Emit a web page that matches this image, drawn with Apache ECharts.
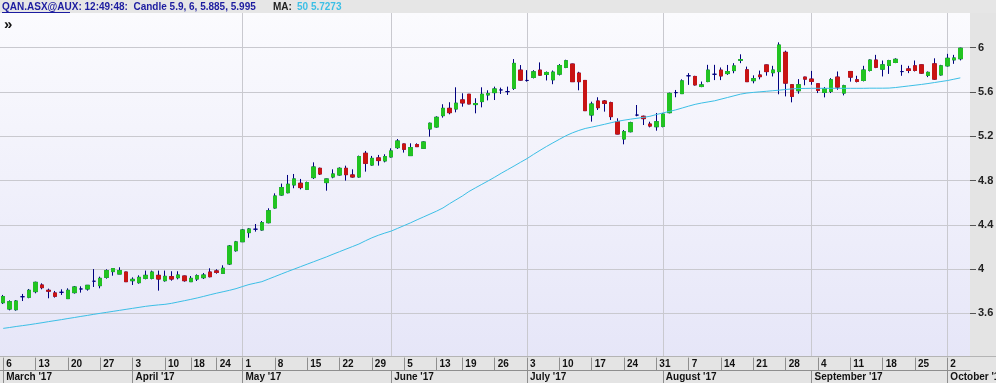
<!DOCTYPE html>
<html><head><meta charset="utf-8">
<script src="https://cdn.jsdelivr.net/npm/echarts@6.0.0/dist/echarts.min.js"></script>
<style>html,body{margin:0;padding:0;background:#fff}#c{width:996px;height:383px}</style>
</head><body><div id="c"></div>
<script>
const dates = [
'2017-03-06','2017-03-07','2017-03-08','2017-03-09','2017-03-10','2017-03-13','2017-03-14','2017-03-15','2017-03-16','2017-03-17',
'2017-03-20','2017-03-21','2017-03-22','2017-03-23','2017-03-24','2017-03-27','2017-03-28','2017-03-29','2017-03-30','2017-03-31',
'2017-04-03','2017-04-04','2017-04-05','2017-04-06','2017-04-07','2017-04-10','2017-04-11','2017-04-12','2017-04-13',
'2017-04-18','2017-04-19','2017-04-20','2017-04-21','2017-04-24','2017-04-26','2017-04-27','2017-04-28',
'2017-05-01','2017-05-02','2017-05-03','2017-05-04','2017-05-05','2017-05-08','2017-05-09','2017-05-10','2017-05-11','2017-05-12',
'2017-05-15','2017-05-16','2017-05-17','2017-05-18','2017-05-19','2017-05-22','2017-05-23','2017-05-24','2017-05-25','2017-05-26',
'2017-05-29','2017-05-30','2017-05-31',
'2017-06-01','2017-06-02','2017-06-05','2017-06-06','2017-06-07','2017-06-08','2017-06-09','2017-06-13','2017-06-14','2017-06-15','2017-06-16',
'2017-06-19','2017-06-20','2017-06-21','2017-06-22','2017-06-23','2017-06-26','2017-06-27','2017-06-28','2017-06-29','2017-06-30',
'2017-07-03','2017-07-04','2017-07-05','2017-07-06','2017-07-07','2017-07-10','2017-07-11','2017-07-12','2017-07-13','2017-07-14',
'2017-07-17','2017-07-18','2017-07-19','2017-07-20','2017-07-21','2017-07-24','2017-07-25','2017-07-26','2017-07-27','2017-07-28','2017-07-31',
'2017-08-01','2017-08-02','2017-08-03','2017-08-04','2017-08-07','2017-08-08','2017-08-09','2017-08-10','2017-08-11',
'2017-08-14','2017-08-15','2017-08-16','2017-08-17','2017-08-18','2017-08-21','2017-08-22','2017-08-23','2017-08-24','2017-08-25',
'2017-08-28','2017-08-29','2017-08-30','2017-08-31',
'2017-09-01','2017-09-04','2017-09-05','2017-09-06','2017-09-07','2017-09-08','2017-09-11','2017-09-12','2017-09-13','2017-09-14','2017-09-15',
'2017-09-18','2017-09-19','2017-09-20','2017-09-21','2017-09-22','2017-09-25','2017-09-26','2017-09-27','2017-09-28','2017-09-29',
'2017-10-02','2017-10-03','2017-10-04'
];
const openP = [3.696,3.639,3.633,3.750,3.745,3.796,3.856,3.808,3.784,3.790,3.733,3.787,3.820,3.820,3.890,3.850,3.925,3.977,3.955,3.973,
3.895,3.877,3.916,3.916,3.943,3.895,3.931,3.922,3.937,3.886,3.910,3.922,3.973,3.983,3.961,4.046,4.166,4.247,4.329,4.360,
4.353,4.419,4.552,4.669,4.690,4.760,4.775,4.720,4.826,4.910,4.781,4.832,4.850,4.910,4.850,4.832,5.046,4.940,5.004,4.977,
5.013,5.097,5.130,5.025,5.124,5.091,5.266,5.284,5.386,5.452,5.446,5.528,5.579,5.486,5.513,5.573,5.594,5.618,5.603,5.633,
5.797,5.704,5.731,5.797,5.758,5.710,5.761,5.822,5.852,5.770,5.704,5.392,5.518,5.518,5.503,5.332,5.175,5.241,5.391,5.380,
5.310,5.286,5.289,5.413,5.594,5.585,5.746,5.740,5.649,5.694,5.760,5.797,5.766,5.793,5.886,5.800,5.702,5.753,5.844,5.774,
5.784,5.958,5.665,5.611,5.734,5.716,5.674,5.596,5.605,5.734,5.590,5.785,5.710,5.704,5.794,5.888,5.806,5.839,5.866,5.784,
5.808,5.836,5.845,5.750,5.854,5.754,5.836,5.890,5.900];
const highP = [3.766,3.717,3.720,3.775,3.820,3.886,3.871,3.823,3.802,3.817,3.826,3.847,3.844,3.856,4.000,3.931,3.998,4.007,4.016,3.975,
3.925,3.943,3.986,3.986,3.986,3.986,3.980,3.980,3.940,3.937,3.952,3.964,4.007,3.998,4.034,4.217,4.254,4.362,4.371,4.407,
4.434,4.549,4.684,4.772,4.850,4.859,4.814,4.790,4.964,4.916,4.817,4.901,4.919,4.934,4.901,5.025,5.067,5.022,5.031,5.037,
5.091,5.175,5.133,5.136,5.136,5.154,5.323,5.380,5.489,5.507,5.642,5.588,5.582,5.543,5.642,5.615,5.648,5.639,5.648,5.897,
5.843,5.797,5.797,5.867,5.785,5.794,5.852,5.891,5.855,5.782,5.707,5.512,5.552,5.527,5.512,5.362,5.256,5.331,5.482,5.386,
5.331,5.410,5.410,5.594,5.618,5.714,5.770,5.746,5.694,5.845,5.845,5.821,5.844,5.860,5.940,5.829,5.750,5.793,5.847,5.836,
6.048,5.973,5.668,5.716,5.737,5.790,5.677,5.644,5.725,5.785,5.665,5.788,5.746,5.836,5.894,5.935,5.884,5.890,5.904,5.845,
5.836,5.884,5.848,5.785,5.904,5.845,5.944,5.935,6.000];
const lowP = [3.684,3.627,3.624,3.711,3.736,3.781,3.817,3.736,3.742,3.766,3.730,3.778,3.787,3.805,3.838,3.826,3.913,3.940,3.955,3.883,
3.856,3.868,3.907,3.907,3.805,3.886,3.895,3.907,3.886,3.884,3.892,3.910,3.925,3.958,3.955,4.037,4.157,4.245,4.283,4.338,
4.347,4.413,4.546,4.663,4.684,4.730,4.720,4.714,4.814,4.850,4.708,4.820,4.844,4.799,4.826,4.826,4.880,4.934,4.934,4.964,
5.007,5.085,5.052,5.022,5.103,5.085,5.196,5.278,5.368,5.398,5.416,5.467,5.489,5.407,5.461,5.524,5.527,5.582,5.573,5.618,
5.701,5.693,5.722,5.749,5.704,5.670,5.749,5.815,5.690,5.615,5.428,5.332,5.437,5.422,5.347,5.218,5.127,5.235,5.380,5.301,
5.280,5.250,5.280,5.407,5.552,5.582,5.664,5.658,5.643,5.688,5.707,5.707,5.754,5.769,5.860,5.690,5.678,5.714,5.747,5.740,
5.579,5.560,5.506,5.584,5.660,5.665,5.590,5.551,5.590,5.620,5.569,5.693,5.686,5.695,5.785,5.815,5.740,5.763,5.860,5.746,
5.770,5.785,5.763,5.734,5.710,5.748,5.830,5.854,5.885];
const closeP = [3.751,3.705,3.711,3.750,3.808,3.880,3.832,3.800,3.754,3.790,3.808,3.838,3.820,3.853,3.890,3.916,3.986,4.004,3.986,3.886,
3.907,3.925,3.943,3.973,3.910,3.934,3.910,3.946,3.895,3.916,3.940,3.946,3.931,3.970,4.007,4.208,4.245,4.353,4.362,4.360,
4.419,4.527,4.660,4.736,4.766,4.814,4.736,4.781,4.922,4.859,4.814,4.859,4.910,4.853,4.832,5.016,4.955,5.000,4.980,5.016,
5.067,5.157,5.082,5.097,5.106,5.148,5.317,5.371,5.452,5.413,5.498,5.501,5.492,5.495,5.579,5.585,5.627,5.618,5.603,5.858,
5.707,5.704,5.782,5.752,5.776,5.779,5.839,5.882,5.693,5.693,5.431,5.491,5.458,5.497,5.377,5.220,5.241,5.322,5.391,5.359,
5.292,5.331,5.400,5.587,5.594,5.700,5.746,5.664,5.664,5.797,5.760,5.745,5.784,5.835,5.892,5.693,5.720,5.738,5.784,5.798,
6.024,5.680,5.560,5.665,5.716,5.695,5.614,5.629,5.710,5.644,5.656,5.734,5.695,5.798,5.888,5.823,5.845,5.884,5.895,5.784,
5.794,5.794,5.770,5.777,5.716,5.836,5.904,5.907,5.995];
const ma50 = [3.464,3.472,3.481,3.489,3.497,3.506,3.515,3.525,3.534,3.543,3.553,3.562,3.572,3.581,3.591,3.600,3.609,3.618,3.627,3.636,
3.645,3.654,3.663,3.670,3.676,3.681,3.690,3.702,3.714,3.726,3.739,3.753,3.768,3.782,3.795,3.808,3.823,3.842,3.860,3.873,
3.886,3.909,3.932,3.955,3.978,4.000,4.022,4.044,4.066,4.088,4.110,4.134,4.157,4.180,4.203,4.226,4.255,4.282,4.305,4.325,
4.343,4.368,4.393,4.418,4.445,4.471,4.497,4.523,4.552,4.590,4.625,4.660,4.700,4.733,4.765,4.797,4.830,4.865,4.898,4.931,
4.965,4.998,5.036,5.072,5.107,5.140,5.172,5.204,5.230,5.252,5.270,5.282,5.295,5.308,5.322,5.335,5.345,5.354,5.362,5.370,
5.380,5.396,5.410,5.424,5.438,5.455,5.472,5.488,5.500,5.510,5.520,5.535,5.550,5.565,5.580,5.590,5.596,5.601,5.606,5.611,
5.616,5.622,5.628,5.631,5.632,5.633,5.633,5.633,5.633,5.633,5.633,5.633,5.633,5.633,5.634,5.634,5.634,5.635,5.640,5.647,
5.654,5.661,5.668,5.676,5.685,5.694,5.703,5.715,5.7273];
const yTicks = [3.6, 4, 4.4, 4.8, 5.2, 5.6, 6];
const monthNames = ['January','February','March','April','May','June','July','August','September','October','November','December'];
const gridMonthStarts = ['2017-05-01','2017-06-01','2017-07-03','2017-08-01','2017-09-01','2017-10-02'];
const maPeriod = 50;
const symbol = 'QAN.ASX@AUX';
const timeStamp = '12:49:48';

const FONT = "'Liberation Sans', Arial, sans-serif";
const GREEN = '#22c322', RED = '#c81414', NAVY = '#00007f', MA_C = '#3cbfe6', GRID_C = '#c9c9cf';

const dObj = dates.map(s => new Date(s + 'T00:00:00Z'));
const weekStart = new Set(), monthStart = new Set();
dObj.forEach((d, i) => {
  if (i === 0 || d.getUTCDay() <= dObj[i-1].getUTCDay() || (d - dObj[i-1]) > 4*864e5) weekStart.add(i);
  if (i === 0 || d.getUTCMonth() !== dObj[i-1].getUTCMonth()) monthStart.add(i);
});
const gridIdx = new Set(gridMonthStarts.map(s => dates.indexOf(s)));

const wickData = dates.map((d, i) => [openP[i], closeP[i], lowP[i], highP[i]]);
const bodyData = dates.map((d, i) => openP[i] === closeP[i] ? ['-','-','-','-'] :
  [openP[i], closeP[i], Math.min(openP[i], closeP[i]), Math.max(openP[i], closeP[i])]);

const last = dates.length - 1;
const headerMain = symbol + ': ' + timeStamp + ':  Candle ' + [openP[last], highP[last], lowP[last], closeP[last]].map(v => +v.toFixed(3)).join(', ');
const headerMA = maPeriod + ' ' + ma50[last];

const catMax = dates.length; // one empty band at the right

const hdrText = (x, text, fill) => ({type: 'text', silent: true, z: 12, x: x, y: 7,
  style: {text: text, fill: fill, fontFamily: FONT, fontSize: 10, fontWeight: 'bold', verticalAlign: 'middle'}});

const chart = echarts.init(document.getElementById('c'), null, {renderer: 'canvas'});
chart.setOption({
  animation: false,
  backgroundColor: '#ffffff',
  grid: {left: 0, right: 26, top: 3.4, bottom: 25.4, containLabel: false, outerBoundsMode: 'none'},
  xAxis: [
    { type: 'category', data: dates, boundaryGap: true, max: catMax, gridIndex: 0,
      axisLine: {show: false}, axisLabel: {show: false}, splitLine: {show: false},
      axisTick: {show: true, alignWithLabel: true, inside: true, length: 345,
        interval: (i) => gridIdx.has(i), lineStyle: {color: GRID_C, width: 1}} },
    { type: 'category', data: dates, boundaryGap: true, max: catMax, gridIndex: 0, position: 'bottom', offset: 0, z: 20,
      axisLine: {show: false}, splitLine: {show: false},
      axisTick: {show: true, alignWithLabel: true, length: 12.5, interval: (i) => weekStart.has(i), lineStyle: {color: '#8e8e8e'}},
      axisLabel: {show: true, interval: (i) => weekStart.has(i), align: 'left', padding: [0,0,0,3], margin: 1,
        formatter: (v) => String(+v.slice(8, 10)), fontFamily: FONT, fontSize: 10, fontWeight: 'bold', color: '#111', lineHeight: 12} },
    { type: 'category', data: dates, boundaryGap: true, max: catMax, gridIndex: 0, position: 'bottom', offset: 12.5, z: 20,
      axisLine: {show: true, lineStyle: {color: '#8e8e8e', width: 1}}, splitLine: {show: false},
      axisTick: {show: true, alignWithLabel: true, length: 13, interval: (i) => monthStart.has(i), lineStyle: {color: '#8e8e8e'}},
      axisLabel: {show: true, interval: (i) => monthStart.has(i), align: 'left', padding: [0,0,0,3], margin: 1,
        formatter: (v) => monthNames[+v.slice(5, 7) - 1] + " '" + v.slice(2, 4), fontFamily: FONT, fontSize: 10, fontWeight: 'bold', color: '#111', lineHeight: 12} }
  ],
  yAxis: [
    { type: 'value', position: 'right', min: 3.2, max: 6.4, interval: 0.4, gridIndex: 0, scale: true,
      axisLine: {show: false}, axisTick: {show: false}, axisLabel: {show: false},
      splitLine: {show: true, lineStyle: {color: GRID_C, width: 1}} },
    { type: 'value', position: 'right', min: 3.2, max: 6.4, interval: 0.4, gridIndex: 0, z: 20, scale: true,
      axisLine: {show: false}, splitLine: {show: false},
      axisTick: {show: true, length: 6, customValues: yTicks, lineStyle: {color: '#555'}},
      axisLabel: {show: true, customValues: yTicks, margin: 8, formatter: (v) => String(+(+v).toFixed(1)),
        fontFamily: FONT, fontSize: 11, fontWeight: 'bold', color: '#222'} }
  ],
  graphic: [
    {type: 'rect', silent: true, z: -10, shape: {x: 0, y: 13, width: 970, height: 343},
      style: {fill: new echarts.graphic.LinearGradient(0, 0, 0, 1, [{offset: 0, color: '#fbfbfe'}, {offset: 1, color: '#e6e6f8'}])}},
    {type: 'rect', silent: true, z: 10, shape: {x: 970, y: 13, width: 26, height: 343}, style: {fill: '#e4e4e4'}},
    {type: 'rect', silent: true, z: 10, shape: {x: 0, y: 356, width: 996, height: 27}, style: {fill: '#e4e4e4'}},
    {type: 'line', silent: true, z: 11, shape: {x1: 0, y1: 356.5, x2: 996, y2: 356.5}, style: {stroke: '#b4b4b4', lineWidth: 1}},
    {type: 'rect', silent: true, z: 10, shape: {x: 0, y: 0, width: 996, height: 13}, style: {fill: '#e6e6e6'}},
    hdrText(2, headerMain, '#1c1ca0'),
    {type: 'line', silent: true, z: 12, shape: {x1: 2, y1: 12.5, x2: 70, y2: 12.5}, style: {stroke: '#1c1ca0', lineWidth: 1}},
    hdrText(273, 'MA:', '#222'),
    hdrText(297, headerMA, MA_C),
    {type: 'text', silent: true, z: 12, x: 4, y: 25, style: {text: '\u00bb', fill: '#111', fontFamily: FONT, fontSize: 15, fontWeight: 'bold', verticalAlign: 'middle'}}
  ],
  series: [
    { type: 'candlestick', name: 'wick', data: wickData, xAxisIndex: 0, yAxisIndex: 0, barWidth: 4, z: 2,
      itemStyle: {color: 'rgba(0,0,0,0)', color0: 'rgba(0,0,0,0)', borderColor: NAVY, borderColor0: NAVY, borderColorDoji: NAVY, borderWidth: 1},
      emphasis: {disabled: true} },
    { type: 'candlestick', name: 'body', data: bodyData, xAxisIndex: 0, yAxisIndex: 0, barWidth: 4, z: 3,
      itemStyle: {color: GREEN, color0: RED, borderColor: GREEN, borderColor0: RED, borderWidth: 1},
      emphasis: {disabled: true} },
    { type: 'line', name: 'MA 50', data: ma50, xAxisIndex: 0, yAxisIndex: 0, showSymbol: false, symbol: 'none', z: 4,
      lineStyle: {color: MA_C, width: 1}, emphasis: {disabled: true} }
  ]
});
</script></body></html>
